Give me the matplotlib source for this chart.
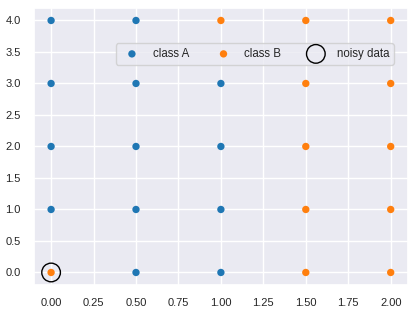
import matplotlib
matplotlib.use("Agg")
import matplotlib.pyplot as plt
import seaborn as sns

sns.set_theme(style="darkgrid")
plt.rcParams['font.family'] = ['Liberation Sans', 'DejaVu Sans']

# class A points
a_x = [0.0, 0.0, 0.0, 0.0, 0.5, 0.5, 0.5, 0.5, 0.5, 1.0, 1.0, 1.0, 1.0]
a_y = [1.0, 2.0, 3.0, 4.0, 0.0, 1.0, 2.0, 3.0, 4.0, 0.0, 1.0, 2.0, 3.0]

# class B points
b_x = [0.0, 1.0, 1.5, 1.5, 1.5, 1.5, 1.5, 2.0, 2.0, 2.0, 2.0, 2.0]
b_y = [0.0, 4.0, 0.0, 1.0, 2.0, 3.0, 4.0, 0.0, 1.0, 2.0, 3.0, 4.0]

# noisy sample
noisy_x = [0.0]
noisy_y = [0.0]

fig, ax = plt.subplots(figsize=(4.16, 3.15), dpi=100)
ax.scatter(a_x, a_y, s=28, color='#1f77b4', edgecolors='none', label='class A')
ax.scatter(b_x, b_y, s=28, color='#ff7f0e', edgecolors='none', label='class B')
ax.scatter(noisy_x, noisy_y, s=180, facecolors='none', edgecolors='black',
           linewidths=1.0, label='noisy data')

ax.set_xticks([0, 0.25, 0.5, 0.75, 1.0, 1.25, 1.5, 1.75, 2.0])
ax.set_yticks([0, 0.5, 1.0, 1.5, 2.0, 2.5, 3.0, 3.5, 4.0])
ax.xaxis.set_major_formatter(plt.FormatStrFormatter('%.2f'))
ax.yaxis.set_major_formatter(plt.FormatStrFormatter('%.1f'))
ax.tick_params(labelsize=8)

ax.legend(ncol=3, fontsize=8.3, loc='upper right', bbox_to_anchor=(0.978, 0.893),
          columnspacing=2.0)

fig.subplots_adjust(left=0.082, right=0.98, top=0.975, bottom=0.095)
fig.savefig('out.png')
